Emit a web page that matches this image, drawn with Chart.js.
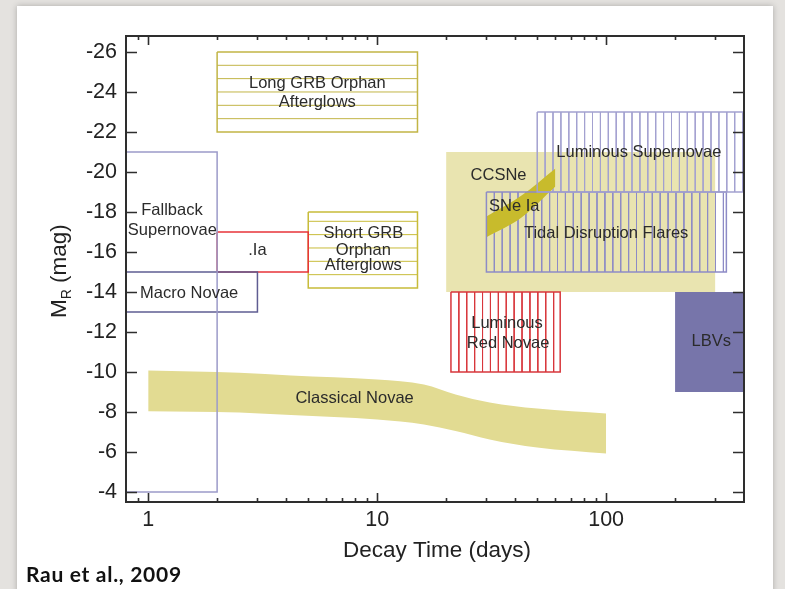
<!DOCTYPE html>
<html lang="en">
<head>
<meta charset="UTF-8">
<title>Transient phase space (Rau et al., 2009)</title>
<script src="https://cdn.jsdelivr.net/npm/chart.js@4.4.1/dist/chart.umd.min.js"></script>
<style>
    body {
        margin: 0;
        width: 785px;
        height: 589px;
        overflow: hidden;
        background: #e4e2df;
        position: relative;
    }
    /* white slide card behind the plot */
    .card {
        position: absolute;
        left: 17px;
        top: 6px;
        width: 756px;
        height: 640px;
        background: #fff;
        box-shadow: 0 0 6px rgba(0,0,0,0.25);
    }
    #wrap {
        position: absolute;
        left: 0;
        top: 0;
        width: 785px;
        height: 589px;
    }
    .credit {
        position: absolute;
        left: 26px;
        top: 561px;
        font-family: Lato, 'Open Sans', sans-serif;
        font-weight: bold;
        font-size: 21px;
        letter-spacing: 0.7px;
        color: #111;
    }
</style>
</head>
<body>
<div class="card"></div>
<div id="wrap"><canvas id="chart"></canvas></div>
<div class="credit">Rau et al., 2009</div>

<script>
// axis ticks
const xTickLabels = [1, 10, 100];
const yTickLabels = [-26, -24, -22, -20, -18, -16, -14, -12, -10, -8, -6, -4];

// outlined / hatched boxes: decay time range (days) and magnitude range
const boxNames  = ['Long GRB', 'Fallback SNe', 'Macro Novae', '.Ia', 'Short GRB', 'Luminous SNe', 'TDF', 'LRN'];
const boxX0     = [2,   0.8, 0.8, 2,   5,    50,  30,  21];
const boxX1     = [15,  2,   3,   5,   15,   400, 335, 63];
const boxBright = [-26, -21, -15, -17, -18,  -23, -19, -14];
const boxFaint  = [-22, -4,  -13, -15, -14.2, -19, -15, -10];

// solid filled boxes
const fillNames  = ['CCSNe', 'LBVs'];
const fillX0     = [20, 200];
const fillX1     = [300, 400];
const fillBright = [-21, -14];
const fillFaint  = [-14, -9];

// classical novae band
const novaX      = [1, 2.5, 4.2, 10, 16, 22, 31, 50, 100];
const novaBright = [-10.07, -9.96, -9.83, -9.63, -9.38, -8.88, -8.48, -8.17, -7.93];
const novaFaint  = [-8.04, -7.98, -7.85, -7.63, -7.38, -7.05, -6.63, -6.22, -5.92];

// SNe Ia band
const snIaX      = [30, 43, 60];
const snIaBright = [-17.77, -18.85, -20.18];
const snIaFaint  = [-16.74, -17.75, -19.27];

// text labels inside the plot
const labelText = ['Long GRB Orphan', 'Afterglows', 'Fallback', 'Supernovae', '.Ia', 'Macro Novae',
    'Short GRB', 'Orphan', 'Afterglows', 'CCSNe', 'SNe Ia', 'Luminous Supernovae',
    'Tidal Disruption Flares', 'Luminous', 'Red Novae', 'LBVs', 'Classical Novae'];
const labelX = [5.48, 5.48, 1.27, 1.275, 3.0, 1.51, 8.7, 8.7, 8.7, 33.9, 39.7, 139, 100, 36.9, 37.3, 288, 7.97];
const labelY = [-24.44, -23.49, -18.07, -17.06, -16.1, -13.92, -16.94, -16.1, -15.35, -19.85, -18.27,
    -20.96, -16.94, -12.45, -11.45, -11.54, -8.66];

// styles
const FONT = "'Liberation Sans', Arial, Helvetica, sans-serif";
const boxStyle = {
    'Long GRB':     { color: '#c2b546', hatch: 'h' },
    'Fallback SNe': { color: '#9c9ac9', hatch: null },
    'Macro Novae':  { color: '#5f5d92', hatch: null },
    '.Ia':          { color: '#e8343a', hatch: null },
    'Short GRB':    { color: '#c8bc3a', hatch: 'h' },
    'Luminous SNe': { color: '#a3a1d0', hatch: 'v' },
    'TDF':          { color: '#8d8bc6', hatch: 'v' },
    'LRN':          { color: '#d8373c', hatch: 'v' }
};
const fillStyle = { 'CCSNe': '#e9e4b0', 'LBVs': '#7775aa' };
const H_STEP = 0.667;   // mag between horizontal hatch lines
const V_STEP = 0.0345;  // dex between vertical hatch lines

const datasets = [];
const base = { type: 'line', pointRadius: 0, tension: 0, spanGaps: false };

// filled rectangles (drawn first, underneath)
fillNames.forEach(function(name, i) {
    datasets.push(Object.assign({}, base, {
        label: name,
        data: [{x: fillX0[i], y: fillBright[i]}, {x: fillX1[i], y: fillBright[i]}],
        borderWidth: 0, borderColor: 'rgba(0,0,0,0)',
        backgroundColor: fillStyle[name], fill: '+1', order: 50
    }));
    datasets.push(Object.assign({}, base, {
        label: name + ' edge',
        data: [{x: fillX0[i], y: fillFaint[i]}, {x: fillX1[i], y: fillFaint[i]}],
        borderWidth: 0, borderColor: 'rgba(0,0,0,0)', fill: false, order: 50
    }));
});

// classical novae band
datasets.push(Object.assign({}, base, {
    label: 'Classical Novae',
    data: novaX.map(function(x, i) { return {x: x, y: novaBright[i]}; }),
    borderWidth: 0, borderColor: 'rgba(0,0,0,0)', cubicInterpolationMode: 'monotone',
    backgroundColor: '#e2db92', fill: '+1', order: 40
}));
datasets.push(Object.assign({}, base, {
    label: 'Classical Novae edge',
    data: novaX.map(function(x, i) { return {x: x, y: novaFaint[i]}; }),
    borderWidth: 0, borderColor: 'rgba(0,0,0,0)', cubicInterpolationMode: 'monotone',
    fill: false, order: 40
}));

// SNe Ia band (sits above the hatching)
datasets.push(Object.assign({}, base, {
    label: 'SNe Ia',
    data: snIaX.map(function(x, i) { return {x: x, y: snIaBright[i]}; }),
    borderWidth: 0, borderColor: 'rgba(0,0,0,0)', cubicInterpolationMode: 'monotone',
    backgroundColor: '#c8bb2c', fill: '+1', order: 15
}));
datasets.push(Object.assign({}, base, {
    label: 'SNe Ia edge',
    data: snIaX.map(function(x, i) { return {x: x, y: snIaFaint[i]}; }),
    borderWidth: 0, borderColor: 'rgba(0,0,0,0)', cubicInterpolationMode: 'monotone',
    fill: false, order: 15
}));

// outlined boxes with hatching
boxNames.forEach(function(name, i) {
    const st = boxStyle[name];
    const x0 = boxX0[i], x1 = boxX1[i], y0 = boxBright[i], y1 = boxFaint[i];
    if (st.hatch) {
        const pts = [];
        if (st.hatch === 'h') {
            for (let y = y1 - H_STEP; y > y0 + 0.05; y -= H_STEP) {
                pts.push({x: x0, y: y}, {x: x1, y: y}, {x: x1, y: null});
            }
        } else {
            const l1 = Math.log10(x1);
            for (let l = Math.log10(x0) + V_STEP; l < l1 - 0.005; l += V_STEP) {
                const x = Math.pow(10, l);
                pts.push({x: x, y: y0}, {x: x, y: y1}, {x: x, y: null});
            }
        }
        datasets.push(Object.assign({}, base, {
            label: name + ' hatch', data: pts, borderColor: st.color,
            borderWidth: 1, fill: false, order: 20
        }));
    }
    datasets.push(Object.assign({}, base, {
        label: name,
        data: [{x: x0, y: y0}, {x: x1, y: y0}, {x: x1, y: y1}, {x: x0, y: y1}, {x: x0, y: y0}],
        borderColor: st.color, borderWidth: 1.5, fill: false, order: 10
    }));
});

// frame, inward ticks, axis titles and in-plot labels
const decorPlugin = {
    id: 'decor',
    afterDraw: function(chart) {
        const ctx = chart.ctx;
        const a = chart.chartArea;
        const xs = chart.scales.x, ys = chart.scales.y;
        ctx.save();

        // labels
        ctx.fillStyle = '#2b2b2b';
        ctx.font = '16.5px ' + FONT;
        ctx.textAlign = 'center';
        ctx.textBaseline = 'middle';
        labelText.forEach(function(t, i) {
            ctx.fillText(t, xs.getPixelForValue(labelX[i]), ys.getPixelForValue(labelY[i]));
        });

        // frame
        ctx.strokeStyle = '#2e2e2e';
        ctx.lineWidth = 2;
        ctx.strokeRect(a.left, a.top, a.right - a.left, a.bottom - a.top);

        // y ticks on both sides
        ctx.lineWidth = 1.6;
        ctx.beginPath();
        yTickLabels.forEach(function(v) {
            const py = Math.round(ys.getPixelForValue(v)) + 0.5;
            ctx.moveTo(a.left, py); ctx.lineTo(a.left + 11, py);
            ctx.moveTo(a.right, py); ctx.lineTo(a.right - 11, py);
        });
        // x ticks top and bottom (major at decades, minor between)
        [0.1, 1, 10, 100].forEach(function(d) {
            for (let m = 1; m <= 9; m++) {
                const v = m * d;
                if (v <= xs.min + 1e-9 || v >= xs.max - 1e-9) continue;
                const px = Math.round(xs.getPixelForValue(v)) + 0.5;
                const len = m === 1 ? 9 : 4;
                ctx.moveTo(px, a.bottom); ctx.lineTo(px, a.bottom - len);
                ctx.moveTo(px, a.top); ctx.lineTo(px, a.top + len);
            }
        });
        ctx.stroke();

        // axis titles
        ctx.fillStyle = '#222';
        ctx.font = '22.5px ' + FONT;
        ctx.textAlign = 'center';
        ctx.textBaseline = 'middle';
        ctx.fillText('Decay Time (days)', (a.left + a.right) / 2 + 2, 551);

        ctx.translate(66, 318);
        ctx.rotate(-Math.PI / 2);
        ctx.textAlign = 'left';
        ctx.textBaseline = 'alphabetic';
        ctx.fillText('M', 0, 0);
        const wM = ctx.measureText('M').width;
        ctx.font = '14px ' + FONT;
        ctx.fillText('R', wM, 5);
        const wR = ctx.measureText('R').width;
        ctx.font = '22.5px ' + FONT;
        ctx.fillText(' (mag)', wM + wR, 0);
        ctx.restore();
    }
};

const tickFont = { family: FONT, size: 21.5 };

new Chart(document.getElementById('chart'), {
    type: 'line',
    data: { datasets: datasets },
    options: {
        responsive: true,
        maintainAspectRatio: false,
        animation: false,
        layout: { padding: { top: 36, right: 41, left: 0, bottom: 0 } },
        plugins: { legend: { display: false }, tooltip: { enabled: false } },
        scales: {
            x: {
                type: 'logarithmic',
                min: 0.8,
                max: 400,
                grid: { display: false, drawTicks: false },
                border: { display: false },
                afterBuildTicks: function(s) { s.ticks = xTickLabels.map(function(v) { return {value: v}; }); },
                afterFit: function(s) { s.height = 87; },
                ticks: {
                    autoSkip: false, maxRotation: 0, padding: 5, color: '#222', font: tickFont,
                    callback: function(v) { return String(v); }
                }
            },
            y: {
                type: 'linear',
                reverse: true,
                min: -26.8,
                max: -3.5,
                grid: { display: false, drawTicks: false },
                border: { display: false },
                afterBuildTicks: function(s) { s.ticks = yTickLabels.map(function(v) { return {value: v}; }); },
                afterFit: function(s) { s.width = 126; },
                ticks: {
                    autoSkip: false, padding: 9, color: '#222', font: tickFont,
                    callback: function(v) { return String(v); }
                }
            }
        }
    },
    plugins: [decorPlugin]
});
</script>
</body>
</html>
